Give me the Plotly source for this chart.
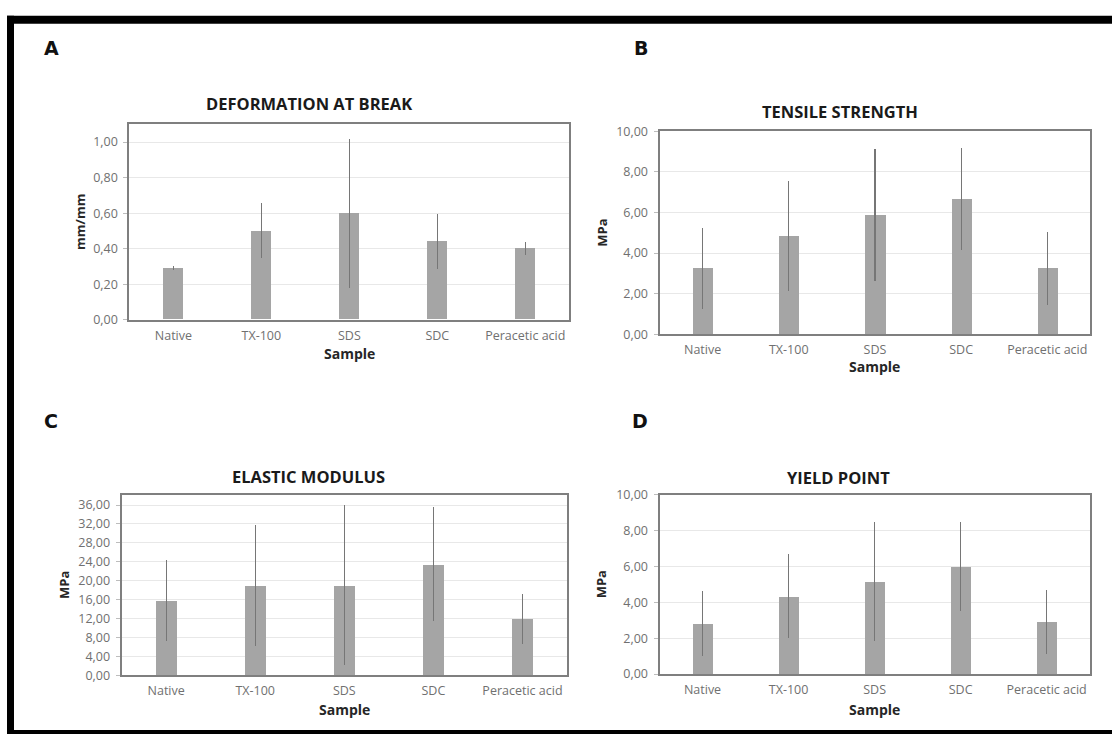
import plotly.graph_objects as go

# ---------------- data ----------------
samples = ["Native", "TX-100", "SDS", "SDC", "Peracetic acid"]

deform_vals = [0.29, 0.50, 0.60, 0.44, 0.40]
deform_err = [0.01, 0.155, 0.42, 0.155, 0.035]

tensile_vals = [3.25, 4.84, 5.87, 6.67, 3.25]
tensile_err = [2.0, 2.7, 3.25, 2.5, 1.8]

elastic_vals = [15.8, 19.0, 19.0, 23.5, 12.0]
elastic_err = [8.5, 12.7, 16.9, 12.0, 5.3]

yield_vals = [2.81, 4.34, 5.17, 5.99, 2.90]
yield_err = [1.8, 2.35, 3.3, 2.5, 1.8]

panel_letters = ["A", "B", "C", "D"]
panel_titles = ["DEFORMATION AT BREAK", "TENSILE STRENGTH", "ELASTIC MODULUS", "YIELD POINT"]
y_titles = ["mm/mm", "MPa", "MPa", "MPa"]
x_title = "Sample"

# ---------------- layout geometry (pixels) ----------------
W, H = 1112, 742
# (left, right, top, bottom) of each plot area
boxes = [
    (129.4, 569.3, 118, 318),
    (659.5, 1090.4, 125, 333),
    (121.6, 567.0, 497, 682),
    (659.5, 1089.7, 497, 680.7),
]
yranges = [(0, 1.1), (0, 10), (0, 38.2), (0, 10)]
ydticks = [0.2, 2, 4, 2]
letter_pos = [(51, 40), (641, 40), (51, 422), (640, 422)]
title_pos = [(309, 97), (840, 105), (308.5, 478), (838.6, 479)]
ytitle_x = [80, 602, 64, 601]
sample_y = [353, 366, 717, 717]

values = [deform_vals, tensile_vals, elastic_vals, yield_vals]
errors = [deform_err, tensile_err, elastic_err, yield_err]

BAR = "#a5a5a5"
ERR = "#767676"
FRAME = "#7f7f7f"
TICK = "#707070"

fig = go.Figure()
annotations = []

def px(x):
    return x / W

def py(y):
    return 1 - y / H

for i in range(4):
    n = "" if i == 0 else str(i + 1)
    xa, ya = "x" + n, "y" + n
    l, r, t, b = boxes[i]
    fig.add_trace(go.Bar(
        x=samples, y=values[i], xaxis=xa, yaxis=ya,
        marker=dict(color=BAR, line=dict(width=0)),
        width=0.234,
        error_y=dict(type="data", array=errors[i], visible=True,
                     color=ERR, thickness=1.2, width=0),
        showlegend=False, hoverinfo="x+y",
    ))
    fig.layout["xaxis" + n] = dict(
        domain=[px(l), px(r)], anchor=ya, type="category",
        range=[-0.5, 4.5], showgrid=False, zeroline=False,
        showline=True, mirror=True, linecolor=FRAME, linewidth=2,
        ticks="", tickfont=dict(family="Open Sans", size=12.5, color=TICK),
        ticklabelstandoff=3, fixedrange=True,
    )
    fig.layout["yaxis" + n] = dict(
        domain=[py(b), py(t)], anchor=xa,
        range=list(yranges[i]), dtick=ydticks[i], tick0=0,
        tickformat=".2f", showgrid=True, gridcolor="#e8e8e8", gridwidth=1,
        zeroline=False, showline=True, mirror=True, linecolor=FRAME, linewidth=2,
        ticks="outside", ticklen=4, tickcolor="#bdbdbd",
        tickfont=dict(family="Open Sans", size=12.5, color=TICK),
        ticklabelstandoff=3, fixedrange=True,
    )
    cx = (l + r) / 2
    common = dict(xref="paper", yref="paper", showarrow=False, xanchor="center", yanchor="middle")
    # panel letter
    annotations.append(dict(text="<b>%s</b>" % panel_letters[i], x=px(letter_pos[i][0]), y=py(letter_pos[i][1]),
                             font=dict(family="DejaVu Sans", size=19, color="#111111"), **common))
    # title
    annotations.append(dict(text="<b>%s</b>" % panel_titles[i], x=px(title_pos[i][0]), y=py(title_pos[i][1]),
                             font=dict(family="Open Sans", size=16.5, color="#1a1a1a"), **common))
    # y title
    annotations.append(dict(text="<b>%s</b>" % y_titles[i], x=px(ytitle_x[i]), y=py((t + b) / 2),
                             textangle=-90,
                             font=dict(family="Open Sans", size=13, color="#262626"), **common))
    # x title
    annotations.append(dict(text="<b>%s</b>" % x_title, x=px(cx), y=py(sample_y[i]),
                             font=dict(family="Open Sans", size=14, color="#262626"), **common))

# outer black frame (decoration)
shapes = [
    dict(type="rect", xref="paper", yref="paper", x0=px(7), x1=1, y0=py(15), y1=py(7),
         fillcolor="black", line=dict(width=0), layer="above"),
    dict(type="rect", xref="paper", yref="paper", x0=px(7), x1=px(14), y0=0, y1=py(7),
         fillcolor="black", line=dict(width=0), layer="above"),
    dict(type="rect", xref="paper", yref="paper", x0=px(7), x1=1, y0=0, y1=py(738),
         fillcolor="black", line=dict(width=0), layer="above"),
]

fig.update_layout(
    width=W, height=H, margin=dict(l=0, r=0, t=0, b=0),
    paper_bgcolor="white", plot_bgcolor="white",
    separators=",.", bargap=0.0,
    annotations=annotations, shapes=shapes,
    font=dict(family="Open Sans"),
)

fig.write_html("out.html", config={"displayModeBar": False},
               post_script="document.body.style.margin='0';document.body.style.overflow='hidden';")
